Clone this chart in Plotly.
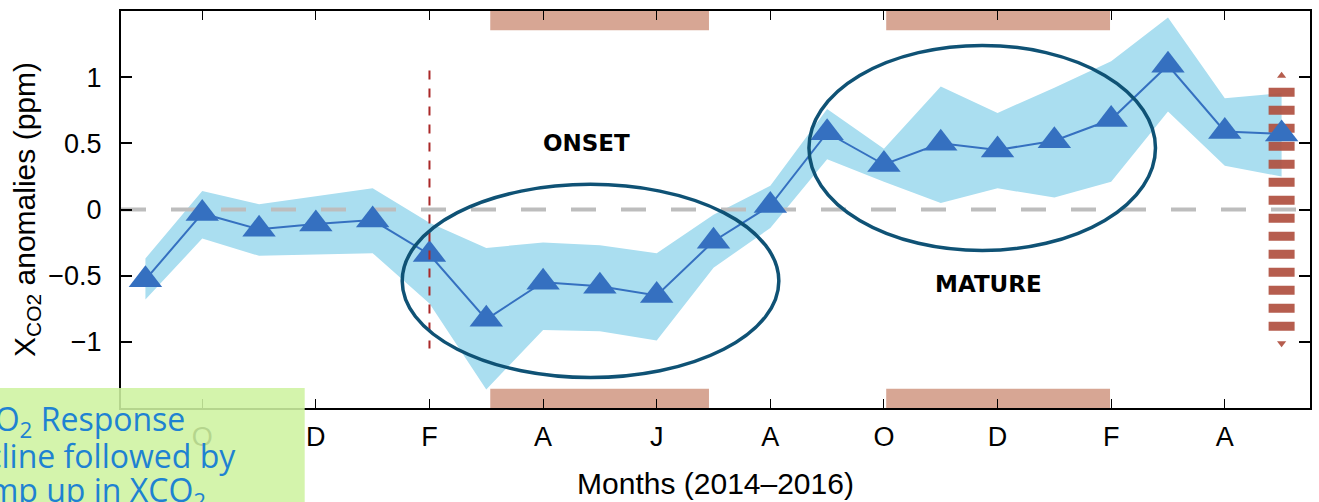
import plotly.graph_objects as go

# Monthly XCO2 anomalies, Sep 2014 .. May 2016 (index 0 = Sep 2014)
months = list(range(21))
xco2 = [-0.53, -0.03, -0.15, -0.11, -0.08, -0.34, -0.83, -0.55, -0.58, -0.65, -0.24,
        0.03, 0.58, 0.34, 0.50, 0.45, 0.52, 0.68, 1.09, 0.59, 0.57]
band_upper = [-0.37, 0.14, 0.04, 0.10, 0.16, -0.10, -0.29, -0.25, -0.27, -0.33, -0.04,
              0.18, 0.76, 0.46, 0.93, 0.73, 0.92, 1.12, 1.45, 0.84, 0.88]
band_lower = [-0.68, -0.22, -0.35, -0.34, -0.33, -0.71, -1.36, -0.91, -0.92, -0.99, -0.44,
              -0.14, 0.38, 0.21, 0.05, 0.16, 0.09, 0.21, 0.74, 0.33, 0.25]

x_tick_pos = [1, 3, 5, 7, 9, 11, 13, 15, 17, 19]
x_tick_labels = ["O", "D", "F", "A", "J", "A", "O", "D", "F", "A"]
y_tick_pos = [-1, -0.5, 0, 0.5, 1]
y_tick_labels = ["\u22121", "\u22120.5", "0", "0.5", "1"]

x_range = [-0.43, 20.5]
y_range = [-1.5, 1.5]

# El Nino phase periods (month index spans) shown as bars on top and bottom edges
phase_spans = [(6.07, 9.92), (13.04, 16.98)]
phase_bar_depth = 0.145

# Phase ellipses: (x0, x1, y0, y1)
phase_ellipses = [(4.52, 11.15, -1.27, 0.19), (11.68, 17.78, -0.31, 1.24)]
phase_names = ["ONSET", "MATURE"]
phase_name_x = [7.77, 14.84]
phase_name_y = [0.50, -0.56]

# Vertical marker for the onset month and the uncertainty arrow on the last month
onset_month = 5
onset_extent = [1.05, -1.05]
arrow_month = 20
arrow_bar_extent = [0.92, -0.92]
arrow_tips = [1.01, -1.01]

BLUE = "rgb(53,112,192)"
BAND = "rgb(170,222,240)"
SALMON = "rgb(215,166,148)"
ELLIPSE = "rgb(15,82,117)"

fig = go.Figure()

# shaded spread
fig.add_trace(go.Scatter(
    x=months + months[::-1], y=band_upper + band_lower[::-1],
    fill="toself", fillcolor=BAND, line=dict(width=0), mode="lines",
    hoverinfo="skip", showlegend=False))

# zero reference
fig.add_trace(go.Scatter(
    x=x_range, y=[0, 0], mode="lines",
    line=dict(color="rgb(189,189,189)", width=4, dash="25px,25px"),
    hoverinfo="skip", showlegend=False))

# dashed uncertainty arrow
fig.add_trace(go.Scatter(
    x=[arrow_month, arrow_month], y=arrow_bar_extent, mode="lines",
    line=dict(color="rgb(176,80,64)", width=26, dash="9px,9px"),
    opacity=0.92, hoverinfo="skip", showlegend=False))
fig.add_trace(go.Scatter(
    x=[arrow_month, arrow_month], y=arrow_tips, mode="markers",
    marker=dict(symbol=["triangle-up", "triangle-down"], size=8, color="rgb(176,80,64)"),
    opacity=0.92, hoverinfo="skip", showlegend=False))

# anomaly series
fig.add_trace(go.Scatter(
    x=months, y=xco2, mode="lines+markers",
    line=dict(color=BLUE, width=2),
    marker=dict(symbol="triangle-up", size=29, color=BLUE),
    showlegend=False))

# onset month marker
fig.add_trace(go.Scatter(
    x=[onset_month, onset_month], y=onset_extent, mode="lines",
    line=dict(color="rgb(170,40,40)", width=2, dash="9px,9px"),
    hoverinfo="skip", showlegend=False))

shapes = []
for x0, x1 in phase_spans:
    shapes.append(dict(type="rect", xref="x", yref="y", x0=x0, x1=x1,
                       y0=y_range[1] - phase_bar_depth, y1=y_range[1],
                       fillcolor=SALMON, line=dict(width=0), layer="below"))
    shapes.append(dict(type="rect", xref="x", yref="y", x0=x0, x1=x1,
                       y0=y_range[0], y1=y_range[0] + phase_bar_depth,
                       fillcolor=SALMON, line=dict(width=0), layer="below"))
for x0, x1, y0, y1 in phase_ellipses:
    shapes.append(dict(type="circle", xref="x", yref="y", x0=x0, x1=x1, y0=y0, y1=y1,
                       line=dict(color=ELLIPSE, width=3.5), layer="above"))

# callout box in the lower-left corner
shapes.append(dict(type="rect", xref="paper", yref="paper",
                   x0=-0.105, x1=0.1545, y0=-0.30, y1=0.0504,
                   fillcolor="rgb(206,242,160)", line=dict(width=0),
                   opacity=0.88, layer="above"))

annotations = []
for name, nx, ny in zip(phase_names, phase_name_x, phase_name_y):
    annotations.append(dict(x=nx, y=ny, xref="x", yref="y", text="<b>%s</b>" % name,
                            showarrow=False,
                            font=dict(family="DejaVu Sans", size=23, color="black")))

callout_lines = ["XCO<sub>2</sub> Response", "Decline followed by", "jump up in XCO<sub>2</sub>"]
callout_x = [-0.1403, -0.1497, -0.138]
callout_y = [-0.0338, -0.120, -0.2126]
for t, cx, cy in zip(callout_lines, callout_x, callout_y):
    annotations.append(dict(x=cx, y=cy, xref="paper", yref="paper", text=t,
                            xanchor="left", yanchor="middle", showarrow=False,
                            font=dict(family="Open Sans", size=32, color="rgb(30,130,210)")))

axis_font = dict(family="Liberation Sans", size=27, color="black")

fig.update_layout(
    width=1319, height=502,
    margin=dict(l=121, r=7, t=11, b=94),
    paper_bgcolor="white", plot_bgcolor="white",
    shapes=shapes, annotations=annotations,
    xaxis=dict(range=x_range, tickvals=x_tick_pos, ticktext=x_tick_labels,
               ticks="inside", ticklen=9, tickwidth=1, tickcolor="black",
               showline=True, linewidth=2, linecolor="black", mirror="ticks",
               showgrid=False, zeroline=False, tickfont=axis_font,
               ticklabelstandoff=4,
               title=dict(text="Months (2014\u20132016)",
                          font=dict(family="Liberation Sans", size=30, color="black"),
                          standoff=22)),
    yaxis=dict(range=y_range, tickvals=y_tick_pos, ticktext=y_tick_labels,
               ticks="inside", ticklen=11, tickwidth=2, tickcolor="black",
               showline=True, linewidth=2, linecolor="black", mirror="ticks",
               showgrid=False, zeroline=False, tickfont=axis_font,
               ticklabelstandoff=12,
               title=dict(text="X<sub>CO2</sub> anomalies (ppm)",
                          font=dict(family="Liberation Sans", size=30, color="black"),
                          standoff=4)),
)

fig.write_html("out.html")
